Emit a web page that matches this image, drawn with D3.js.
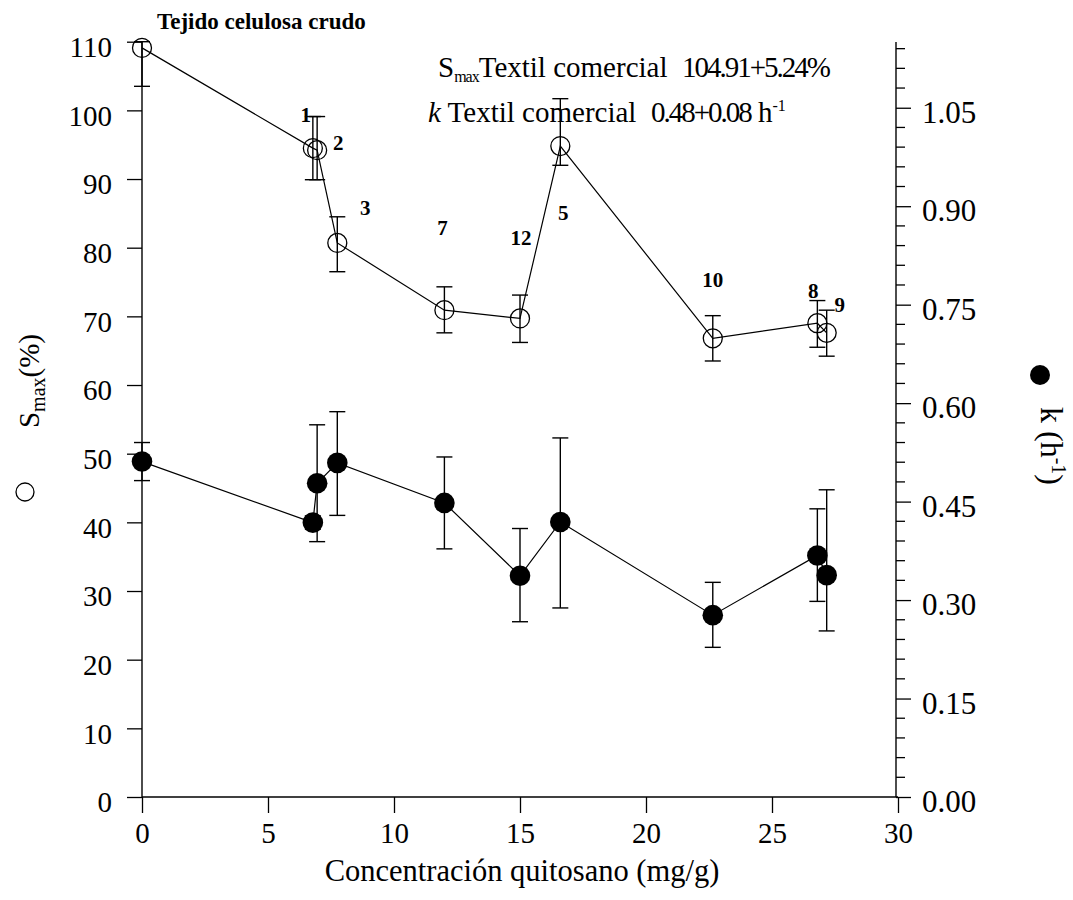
<!DOCTYPE html>
<html>
<head>
<meta charset="utf-8">
<script src="https://cdn.jsdelivr.net/npm/d3@7/dist/d3.min.js"></script>
<style>
  body { margin: 0; background: #fff; }
  text { font-family: "Liberation Serif", "Times New Roman", serif; fill: #000; white-space: pre; }
</style>
</head>
<body>
<svg id="chart" width="1073" height="900"></svg>
<script>
// Chitosan concentration on the fabric (mg/g) and sample identifiers
const concentration = [0, 6.78, 6.95, 7.75, 12.0, 15.0, 16.6, 22.65, 26.8, 27.17];
const sampleLabels  = ["", "1", "2", "3", "7", "12", "5", "10", "8", "9"];

// Maximum swelling S_max (%) with error bars
const smax         = [109.1, 94.5, 94.2, 80.7, 70.9, 69.7, 94.8, 66.8, 69.0, 67.6];
const smaxErrPlus  = [5.6, 4.6, 4.9, 3.8, 3.4, 3.4, 6.9, 3.3, 3.3, 3.3];
const smaxErrMinus = [5.6, 4.6, 4.3, 4.2, 3.3, 3.5, 2.8, 3.3, 3.5, 3.4];

// Swelling rate constant k (h^-1) with error bars
const kRate      = [0.511, 0.418, 0.478, 0.509, 0.448, 0.337, 0.419, 0.277, 0.368, 0.338];
const kErrPlus   = [0.029, 0.010, 0.089, 0.078, 0.070, 0.072, 0.128, 0.050, 0.071, 0.130];
const kErrMinus  = [0.029, 0.010, 0.089, 0.080, 0.070, 0.070, 0.131, 0.049, 0.070, 0.085];

// Axis ticks
const xTicks          = [0, 5, 10, 15, 20, 25, 30];
const leftTicks       = [0, 10, 20, 30, 40, 50, 60, 70, 80, 90, 100, 110];
const rightMajorTicks = [0, 0.15, 0.30, 0.45, 0.60, 0.75, 0.90, 1.05];
const rightMinorTicks = d3.range(0, 39).map(i => +(i * 0.03).toFixed(2));

const svg = d3.select("#chart");

const x  = d3.scaleLinear().domain([0, 30]).range([142, 898]);
const yL = d3.scaleLinear().domain([0, 110]).range([797, 41.7]);
const yR = d3.scaleLinear().domain([0, 1.15]).range([797, 42.1]);
const rightAxisX = 896;

const rows = concentration.map((c, i) => ({
  c, label: sampleLabels[i],
  s: smax[i], sp: smaxErrPlus[i], sm: smaxErrMinus[i],
  k: kRate[i], kp: kErrPlus[i], km: kErrMinus[i]
}));

// ----- axes -----
const tickFont = "29px";

const xAxis = svg.append("g").attr("transform", "translate(0,797)")
  .call(d3.axisBottom(x).tickValues(xTicks).tickSize(16).tickPadding(9).tickFormat(d3.format("d")));
xAxis.select(".domain").attr("d", `M${x(0)},0H${x(30)}`).attr("stroke-width", 1.4);
xAxis.selectAll(".tick line").attr("stroke-width", 1.3);
xAxis.selectAll(".tick text").style("font-size", tickFont).attr("font-family", null);

const leftAxis = svg.append("g").attr("transform", `translate(${x(0)},0)`)
  .call(d3.axisLeft(yL).tickValues(leftTicks).tickSize(15).tickPadding(30).tickFormat(d3.format("d")));
leftAxis.select(".domain").attr("d", `M0,${yL(0)}V${yL(110)}`).attr("stroke-width", 1.4);
leftAxis.selectAll(".tick line").attr("stroke-width", 1.3);
leftAxis.selectAll(".tick text").style("font-size", tickFont).attr("font-family", null)
  .attr("x", -30).attr("dy", "0.34em").attr("y", 5);

const rightAxis = svg.append("g").attr("transform", `translate(${rightAxisX},0)`)
  .call(d3.axisRight(yR).tickValues(rightMajorTicks).tickSize(15).tickPadding(14).tickFormat(d3.format(".2f")));
rightAxis.select(".domain").attr("d", `M0,${yR(0)}V${yR(1.15)}`).attr("stroke-width", 1.4);
rightAxis.selectAll(".tick line").attr("stroke-width", 1.3);
rightAxis.selectAll(".tick text").style("font-size", "31px").attr("font-family", null)
  .attr("x", 26).attr("dy", "0.34em").attr("y", 4);
rightAxis.append("g").selectAll("line")
  .data(rightMinorTicks.filter(t => !rightMajorTicks.some(m => Math.abs(m - t) < 1e-6)))
  .join("line")
  .attr("x1", 0).attr("x2", 9)
  .attr("y1", d => yR(d)).attr("y2", d => yR(d))
  .attr("stroke", "#000").attr("stroke-width", 1.3);

// ----- axis titles -----
svg.append("text")
  .attr("x", 522).attr("y", 881)
  .attr("text-anchor", "middle")
  .style("font-size", "30.5px")
  .text("Concentración quitosano (mg/g)");

const leftTitle = svg.append("text")
  .attr("transform", "translate(39,381) rotate(-90)")
  .attr("text-anchor", "middle")
  .style("font-size", "29px");
leftTitle.append("tspan").text("S");
leftTitle.append("tspan").attr("dy", 6).style("font-size", "20px").text("max");
leftTitle.append("tspan").attr("dy", -6).text("(%)");

svg.append("circle").attr("cx", 25).attr("cy", 492).attr("r", 9)
  .attr("fill", "none").attr("stroke", "#000").attr("stroke-width", 1.3);

svg.append("circle").attr("cx", 1040).attr("cy", 375).attr("r", 10).attr("fill", "#000");

const rightTitle = svg.append("text")
  .attr("transform", "translate(1041,446) rotate(90)")
  .attr("text-anchor", "middle")
  .style("font-size", "32px");
rightTitle.append("tspan").text("k (h");
rightTitle.append("tspan").attr("dy", -11).style("font-size", "20px").text("-1");
rightTitle.append("tspan").attr("dy", 11).text(")");

// ----- error bars -----
const capHalf = 8;
function errorBars(data, yScale, val, plus, minus, domainMax) {
  const g = svg.append("g").attr("stroke", "#000").attr("stroke-width", 1.4);
  data.forEach(d => {
    const cx = x(d.c);
    const top = yScale(Math.min(d[val] + d[plus], domainMax));
    const bot = yScale(d[val] - d[minus]);
    g.append("line").attr("x1", cx).attr("x2", cx).attr("y1", top).attr("y2", bot);
    g.append("line").attr("x1", cx - capHalf).attr("x2", cx + capHalf).attr("y1", top).attr("y2", top);
    g.append("line").attr("x1", cx - capHalf).attr("x2", cx + capHalf).attr("y1", bot).attr("y2", bot);
  });
}

// ----- connecting lines -----
svg.append("path").datum(rows)
  .attr("fill", "none").attr("stroke", "#000").attr("stroke-width", 1.2)
  .attr("d", d3.line().x(d => x(d.c)).y(d => yL(d.s)));
svg.append("path").datum(rows)
  .attr("fill", "none").attr("stroke", "#000").attr("stroke-width", 1.2)
  .attr("d", d3.line().x(d => x(d.c)).y(d => yR(d.k)));

errorBars(rows, yL, "s", "sp", "sm", 110);
errorBars(rows, yR, "k", "kp", "km", 1.15);

// ----- markers -----
svg.append("g").selectAll("circle").data(rows).join("circle")
  .attr("cx", d => x(d.c)).attr("cy", d => yL(d.s)).attr("r", 9.5)
  .attr("fill", "none").attr("stroke", "#000").attr("stroke-width", 1.3);

svg.append("g").selectAll("circle").data(rows).join("circle")
  .attr("cx", d => x(d.c)).attr("cy", d => yR(d.k)).attr("r", 10.3)
  .attr("fill", "#000");

// ----- sample numbers next to the S_max markers -----
const labelOffset = {
  "1": [-7, -26], "2": [21, 0], "3": [28, -28], "7": [-2, -75], "12": [1, -73],
  "5": [3, 74], "10": [0, -51], "8": [-4, -25], "9": [13, -21]
};
svg.append("g").selectAll("text").data(rows.filter(d => d.label)).join("text")
  .attr("x", d => x(d.c) + labelOffset[d.label][0])
  .attr("y", d => yL(d.s) + labelOffset[d.label][1])
  .attr("text-anchor", "middle")
  .style("font-size", "21px").style("font-weight", "bold")
  .text(d => d.label);

// ----- annotations -----
svg.append("text").attr("x", 157).attr("y", 29)
  .style("font-size", "23px").style("font-weight", "bold")
  .text("Tejido celulosa crudo");

const note1 = svg.append("text").attr("x", 438).attr("y", 77).style("font-size", "29px");
note1.append("tspan").text("S");
note1.append("tspan").attr("dy", 5).style("font-size", "16px").style("letter-spacing", "-1px").text("max");
note1.append("tspan").attr("dy", -5).text("Textil comercial  ");
note1.append("tspan").style("letter-spacing", "-2px").text("104.91+5.24%");

const note2 = svg.append("text").attr("x", 428).attr("y", 122).style("font-size", "29px");
note2.append("tspan").style("font-style", "italic").text("k");
note2.append("tspan").text(" Textil comercial  ");
note2.append("tspan").style("letter-spacing", "-2px").text("0.48+0.08");
note2.append("tspan").text(" h");
note2.append("tspan").attr("dy", -11).style("font-size", "16px").text("-1");
</script>
</body>
</html>
